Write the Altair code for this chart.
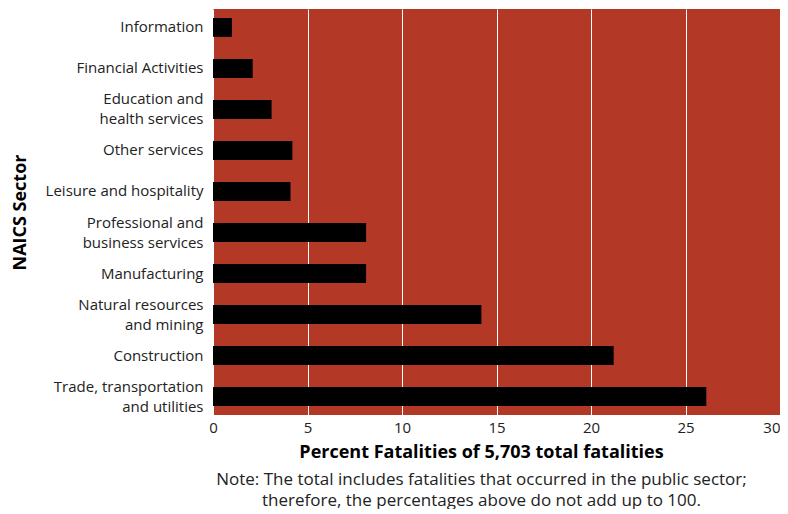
import altair as alt
import pandas as pd

sectors = [
    "Information",
    "Financial Activities",
    "Education and|health services",
    "Other services",
    "Leisure and hospitality",
    "Professional and|business services",
    "Manufacturing",
    "Natural resources|and mining",
    "Construction",
    "Trade, transportation|and utilities",
]
percents = [1.0, 2.1, 3.1, 4.2, 4.1, 8.1, 8.1, 14.2, 21.2, 26.1]
x_ticks = [0, 5, 10, 15, 20, 25, 30]

x_title = "Percent Fatalities of 5,703 total fatalities"
note_lines = [
    "Note: The total includes fatalities that occurred in the public sector;",
    "therefore, the percentages above do not add up to 100.",
]

df = pd.DataFrame({"sector": sectors, "percent": percents})

FONT = "Open Sans"

chart = alt.Chart(df).mark_bar(color="black").encode(
    x=alt.X(
        "percent:Q",
        scale=alt.Scale(domain=[0, 30], nice=False),
        axis=alt.Axis(
            values=x_ticks,
            title=None,
            grid=True,
            gridColor="white",
            gridWidth=1,
            domain=False,
            ticks=False,
            labelFontSize=15,
            labelPadding=5,
            labelColor="#222222",
            labelFont=FONT,
            labelAlign={
                "condition": {"test": "datum.value >= 30", "value": "right"},
                "value": "center",
            },
        ),
    ),
    y=alt.Y(
        "sector:N",
        sort=sectors,
        scale=alt.Scale(paddingInner=0.54, paddingOuter=0.22),
        axis=alt.Axis(
            title="NAICS Sector",
            titleFontSize=18,
            titleFontWeight="bold",
            titleColor="black",
            titleFont=FONT,
            titlePadding=16,
            labelExpr="split(datum.label, '|')",
            labelLineHeight=20,
            labelOffset={
                "condition": {"test": "indexof(datum.value, '|') >= 0", "value": -10},
                "value": 0,
            },
            labelFontSize=15,
            labelColor="#222222",
            labelFont=FONT,
            labelPadding=10,
            domain=False,
            ticks=False,
            grid=False,
        ),
    ),
).properties(
    width=567,
    height=406,
    background="white",
    padding={"left": 3, "top": 1, "right": 0, "bottom": 0},
    title=alt.TitleParams(
        text=x_title,
        subtitle=note_lines,
        orient="bottom",
        anchor="middle",
        dx=-15,
        offset=9,
        fontSize=18,
        fontWeight="bold",
        color="black",
        font=FONT,
        subtitleFontSize=17,
        subtitleColor="#222222",
        subtitleFont=FONT,
        subtitleLineHeight=21,
        subtitlePadding=10,
    ),
).configure_view(
    fill="#b43826",
    stroke=None,
)

chart.save("out.html", embed_options={"renderer": "svg", "actions": False})
